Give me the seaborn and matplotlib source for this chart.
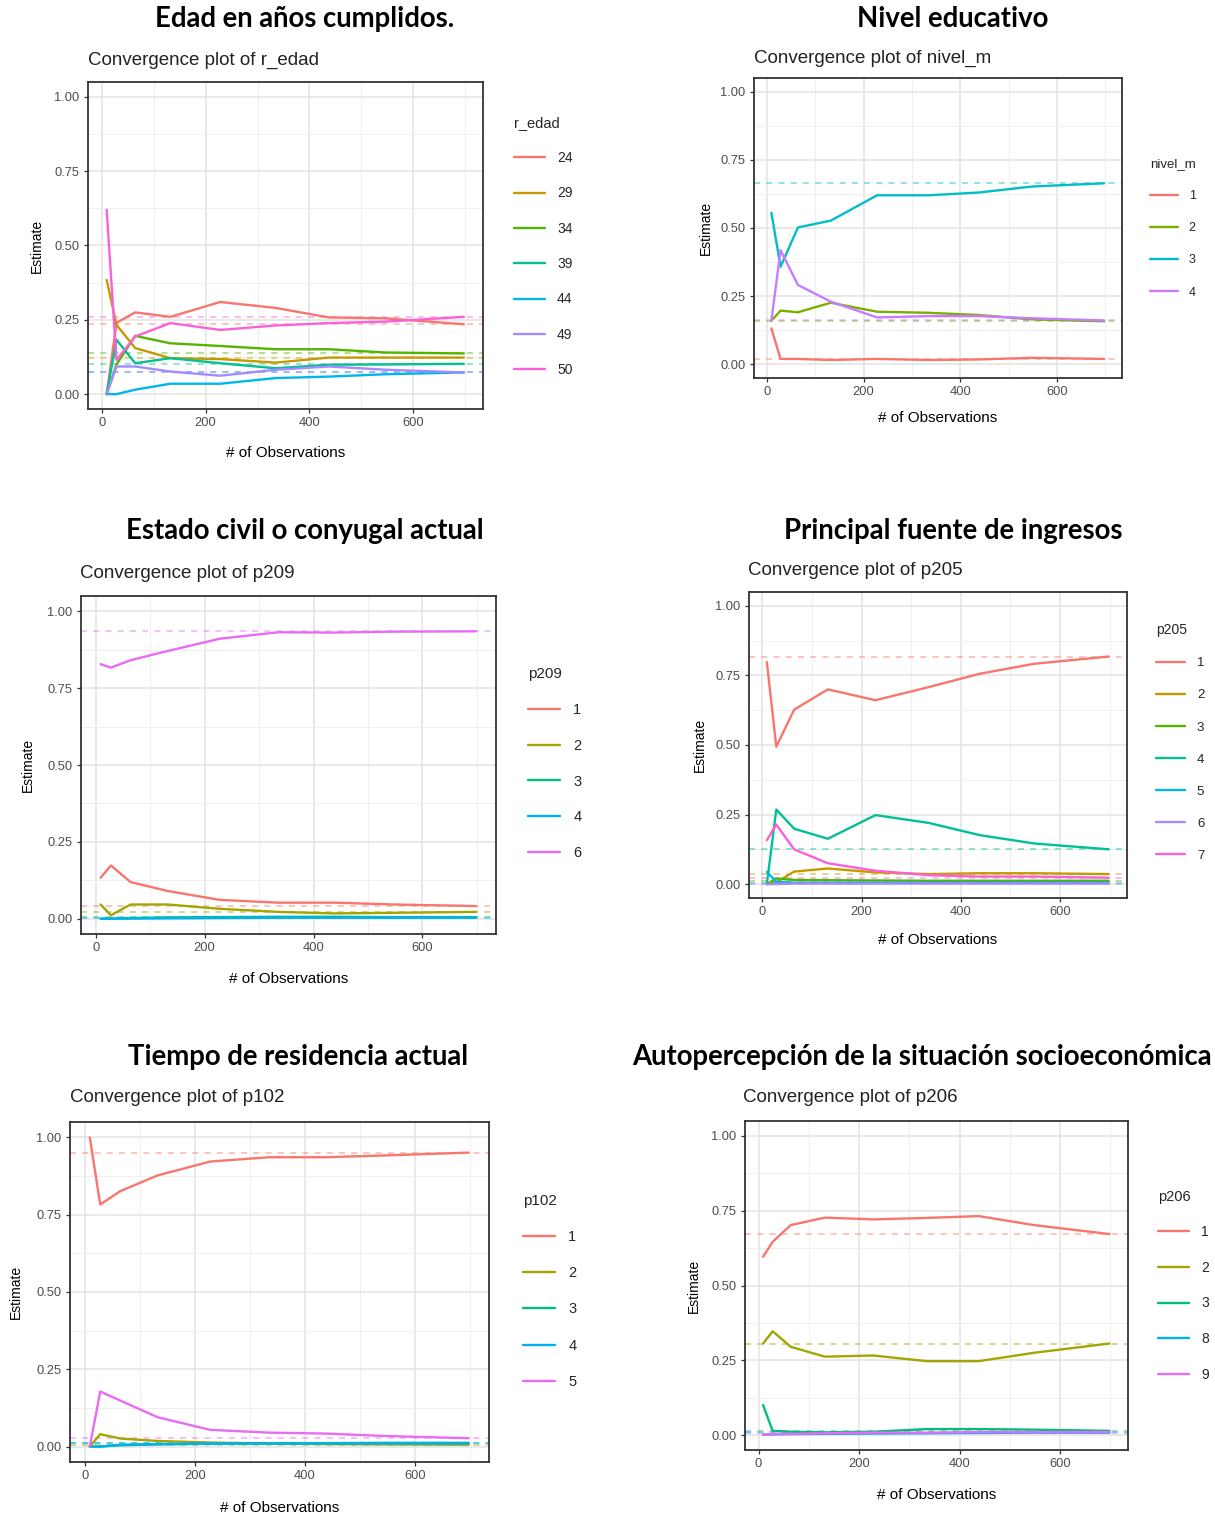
import numpy as np
import pandas as pd
import matplotlib
matplotlib.use("Agg")
import matplotlib.pyplot as plt
import seaborn as sns
from matplotlib.lines import Line2D
from matplotlib.ticker import MultipleLocator

sns.set_theme(style="white")
plt.rcParams['font.family'] = ['Liberation Sans', 'DejaVu Sans']

# ---------------- data ----------------
obs = [9, 28, 64, 132, 228, 335, 438, 548, 698]

# Panel 1: r_edad
edad_cats = ["24", "29", "34", "39", "44", "49", "50"]
edad_24 = [0.0, 0.24, 0.275, 0.26, 0.31, 0.29, 0.258, 0.255, 0.235]
edad_29 = [0.384, 0.233, 0.155, 0.121, 0.118, 0.106, 0.123, 0.123, 0.123]
edad_34 = [0.0, 0.10, 0.196, 0.171, 0.162, 0.151, 0.151, 0.14, 0.137]
edad_39 = [0.0, 0.183, 0.104, 0.121, 0.104, 0.087, 0.099, 0.10, 0.102]
edad_44 = [0.0, 0.0, 0.015, 0.035, 0.035, 0.054, 0.059, 0.067, 0.073]
edad_49 = [0.0, 0.093, 0.093, 0.076, 0.062, 0.082, 0.093, 0.082, 0.073]
edad_50 = [0.62, 0.115, 0.194, 0.239, 0.216, 0.231, 0.239, 0.244, 0.26]

# Panel 2: nivel_m
nivel_cats = ["1", "2", "3", "4"]
nivel_1 = [0.132, 0.02, 0.02, 0.016, 0.02, 0.016, 0.018, 0.024, 0.02]
nivel_2 = [0.16, 0.197, 0.191, 0.226, 0.193, 0.189, 0.181, 0.165, 0.158]
nivel_3 = [0.556, 0.358, 0.502, 0.527, 0.62, 0.62, 0.63, 0.652, 0.664]
nivel_4 = [0.16, 0.419, 0.291, 0.23, 0.172, 0.177, 0.177, 0.169, 0.161]

# Panel 3: p209
p209_cats = ["1", "2", "3", "4", "6"]
p209_1 = [0.133, 0.173, 0.119, 0.09, 0.061, 0.052, 0.052, 0.046, 0.041]
p209_2 = [0.046, 0.011, 0.046, 0.046, 0.032, 0.022, 0.017, 0.019, 0.022]
p209_3 = [0.0, 0.0, 0.002, 0.004, 0.005, 0.006, 0.006, 0.005, 0.005]
p209_4 = [0.0, 0.0, 0.0, 0.001, 0.002, 0.003, 0.003, 0.003, 0.003]
p209_6 = [0.828, 0.817, 0.841, 0.871, 0.911, 0.932, 0.931, 0.934, 0.935]

# Panel 4: p205
p205_cats = ["1", "2", "3", "4", "5", "6", "7"]
p205_1 = [0.798, 0.494, 0.627, 0.70, 0.661, 0.708, 0.756, 0.792, 0.818]
p205_2 = [0.0, 0.006, 0.045, 0.056, 0.042, 0.036, 0.039, 0.039, 0.036]
p205_3 = [0.0, 0.02, 0.015, 0.014, 0.013, 0.012, 0.012, 0.012, 0.012]
p205_4 = [0.0, 0.268, 0.199, 0.163, 0.248, 0.22, 0.176, 0.146, 0.125]
p205_5 = [0.044, 0.008, 0.005, 0.005, 0.005, 0.005, 0.005, 0.005, 0.005]
p205_6 = [0.0, 0.0, 0.002, 0.002, 0.002, 0.002, 0.002, 0.002, 0.002]
p205_7 = [0.158, 0.214, 0.125, 0.075, 0.048, 0.032, 0.027, 0.027, 0.023]

# Panel 5: p102
p102_cats = ["1", "2", "3", "4", "5"]
p102_1 = [1.0, 0.783, 0.826, 0.877, 0.922, 0.936, 0.936, 0.942, 0.951]
p102_2 = [0.0, 0.04, 0.026, 0.018, 0.013, 0.01, 0.008, 0.007, 0.006]
p102_3 = [0.0, 0.0, 0.004, 0.007, 0.009, 0.01, 0.011, 0.012, 0.012]
p102_4 = [0.0, 0.0, 0.006, 0.008, 0.01, 0.01, 0.01, 0.01, 0.01]
p102_5 = [0.0, 0.178, 0.149, 0.095, 0.054, 0.045, 0.042, 0.034, 0.027]

# Panel 6: p206
p206_cats = ["1", "2", "3", "8", "9"]
p206_1 = [0.596, 0.646, 0.702, 0.727, 0.721, 0.726, 0.732, 0.702, 0.672]
p206_2 = [0.306, 0.347, 0.295, 0.262, 0.266, 0.247, 0.247, 0.275, 0.306]
p206_3 = [0.1, 0.014, 0.011, 0.009, 0.011, 0.02, 0.02, 0.018, 0.014]
p206_8 = [0.002, 0.002, 0.003, 0.004, 0.005, 0.006, 0.007, 0.008, 0.008]
p206_9 = [0.0, 0.004, 0.004, 0.006, 0.008, 0.008, 0.01, 0.01, 0.01]

titles = ["Edad en años cumplidos.", "Nivel educativo",
          "Estado civil o conyugal actual", "Principal fuente de ingresos",
          "Tiempo de residencia actual",
          "Autopercepción de la situación socioeconómica"]

pal4 = ["#F8766D", "#7CAE00", "#00BFC4", "#C77CFF"]
pal5 = ["#F8766D", "#A3A500", "#00BF7D", "#00B0F6", "#E76BF3"]
pal7 = ["#F8766D", "#C49A00", "#53B400", "#00C094", "#00B6EB", "#A58AFF", "#FB61D7"]

# ---------------- layout ----------------
W, H = 1215, 1518
fig = plt.figure(figsize=(W / 100, H / 100), dpi=100)

NARROW = ['Liberation Sans Narrow', 'Liberation Sans', 'DejaVu Sans']
TITLEF = ['Lato', 'DejaVu Sans']


def fx(x):
    return x / W


def fy(y):
    return 1 - y / H


panels = [
    dict(var="r_edad", cats=edad_cats,
         series=[edad_24, edad_29, edad_34, edad_39, edad_44, edad_49, edad_50],
         pal=pal7, rect=(88, 82, 483, 409), title_xy=(305, 19), sub_xy=(88, 60),
         ylab_x=37, xlab_y=453, leg=(514, 120, 158, 35.2, 10.0)),
    dict(var="nivel_m", cats=nivel_cats,
         series=[nivel_1, nivel_2, nivel_3, nivel_4],
         pal=pal4, rect=(754, 78, 1122, 378), title_xy=(953, 19), sub_xy=(754, 58),
         ylab_x=706, xlab_y=418, leg=(1150, 161, 197, 32.6, 9.0)),
    dict(var="p209", cats=p209_cats,
         series=[p209_1, p209_2, p209_3, p209_4, p209_6],
         pal=pal5, rect=(81, 596, 496, 934), title_xy=(305, 531), sub_xy=(80, 573),
         ylab_x=28, xlab_y=979, leg=(528, 672, 711, 36.3, 10.5)),
    dict(var="p205", cats=p205_cats,
         series=[p205_1, p205_2, p205_3, p205_4, p205_5, p205_6, p205_7],
         pal=pal7, rect=(749, 592, 1127, 898), title_xy=(953, 531), sub_xy=(748, 570),
         ylab_x=700, xlab_y=940, leg=(1156, 627, 663, 33.0, 9.5)),
    dict(var="p102", cats=p102_cats,
         series=[p102_1, p102_2, p102_3, p102_4, p102_5],
         pal=pal5, rect=(70, 1122, 489, 1462), title_xy=(298, 1057), sub_xy=(70, 1098),
         ylab_x=16, xlab_y=1508, leg=(523, 1197, 1238, 36.75, 10.5)),
    dict(var="p206", cats=p206_cats,
         series=[p206_1, p206_2, p206_3, p206_8, p206_9],
         pal=pal5, rect=(745, 1121, 1128, 1450), title_xy=(922, 1057), sub_xy=(743, 1097),
         ylab_x=694, xlab_y=1495, leg=(1158, 1193, 1232, 35.5, 10.0)),
]

for p, title in zip(panels, titles):
    l, t, r, b = p["rect"]
    ax = fig.add_axes([fx(l), fy(b), fx(r) - fx(l), (b - t) / H])
    cats = p["cats"]
    df = pd.DataFrame({
        "obs": obs * len(cats),
        "est": np.concatenate(p["series"]),
        p["var"]: np.repeat(cats, len(obs)),
    })
    for c, vals, col in zip(cats, p["series"], p["pal"]):
        ax.axhline(vals[-1], color=col, ls=(0, (4, 4)), lw=1.1, alpha=0.55, zorder=1)
    sns.lineplot(data=df, x="obs", y="est", hue=p["var"], hue_order=cats,
                 palette=p["pal"], ax=ax, lw=1.7, legend=False, zorder=3)
    ax.set_xlim(-27, 735)
    ax.set_ylim(-0.05, 1.05)
    ax.xaxis.set_major_locator(MultipleLocator(200))
    ax.xaxis.set_minor_locator(MultipleLocator(100))
    ax.yaxis.set_major_locator(MultipleLocator(0.25))
    ax.yaxis.set_minor_locator(MultipleLocator(0.125))
    ax.yaxis.set_major_formatter(matplotlib.ticker.FormatStrFormatter("%.2f"))
    ax.grid(True, which="major", color="#E3E3E3", lw=1.1, zorder=0)
    ax.grid(True, which="minor", color="#EFEFEF", lw=0.7, zorder=0)
    ax.set_axisbelow(True)
    for s in ax.spines.values():
        s.set_color("#333333")
        s.set_linewidth(1.3)
    ax.tick_params(which="major", direction="out", length=3, width=0.9,
                   color="#333333", labelcolor="#4D4D4D", labelsize=9.3, pad=3,
                   bottom=True, left=True)
    ax.tick_params(which="minor", length=0)
    for lab in ax.get_xticklabels() + ax.get_yticklabels():
        lab.set_family(NARROW)
    ax.set_xlabel("")
    ax.set_ylabel("")

    fig.text(fx(p["title_xy"][0]), fy(p["title_xy"][1]), title, ha="center", va="center",
             fontsize=19.8, fontweight="bold", family=TITLEF, color="black")
    fig.text(fx(p["sub_xy"][0]), fy(p["sub_xy"][1]), "Convergence plot of " + p["var"],
             ha="left", va="center", fontsize=13.5, family=NARROW, color="#222222")
    fig.text(fx(p["ylab_x"]), fy((t + b) / 2), "Estimate", rotation=90, ha="center",
             va="center", fontsize=10, family=NARROW, color="black")
    fig.text(fx((l + r) / 2), fy(p["xlab_y"]), "# of Observations", ha="center",
             va="center", fontsize=11, family=NARROW, color="black")

    lx, ly, ly1, sp, fs = p["leg"]
    fs_px = fs * 100 / 72
    handles = [Line2D([], [], color=col, lw=1.7) for col in p["pal"]]
    text_h = 1.0 * fs_px
    lsp = (sp - text_h) / fs_px
    # place so the first entry lands where the reference has it
    top = ly1 - sp - 0.5 * fs_px
    leg = ax.legend(handles, cats, title=p["var"], loc="upper left",
                    bbox_to_anchor=(fx(lx), fy(top)),
                    bbox_transform=fig.transFigure, frameon=False,
                    fontsize=fs, title_fontsize=fs + 0.5, labelspacing=lsp,
                    handlelength=2.2, handletextpad=0.9, borderpad=0,
                    borderaxespad=0, alignment="left")
    for txt in leg.get_texts():
        txt.set_family(NARROW)
    leg.get_title().set_family(NARROW)

fig.savefig("out.png", dpi=100, facecolor="white")
